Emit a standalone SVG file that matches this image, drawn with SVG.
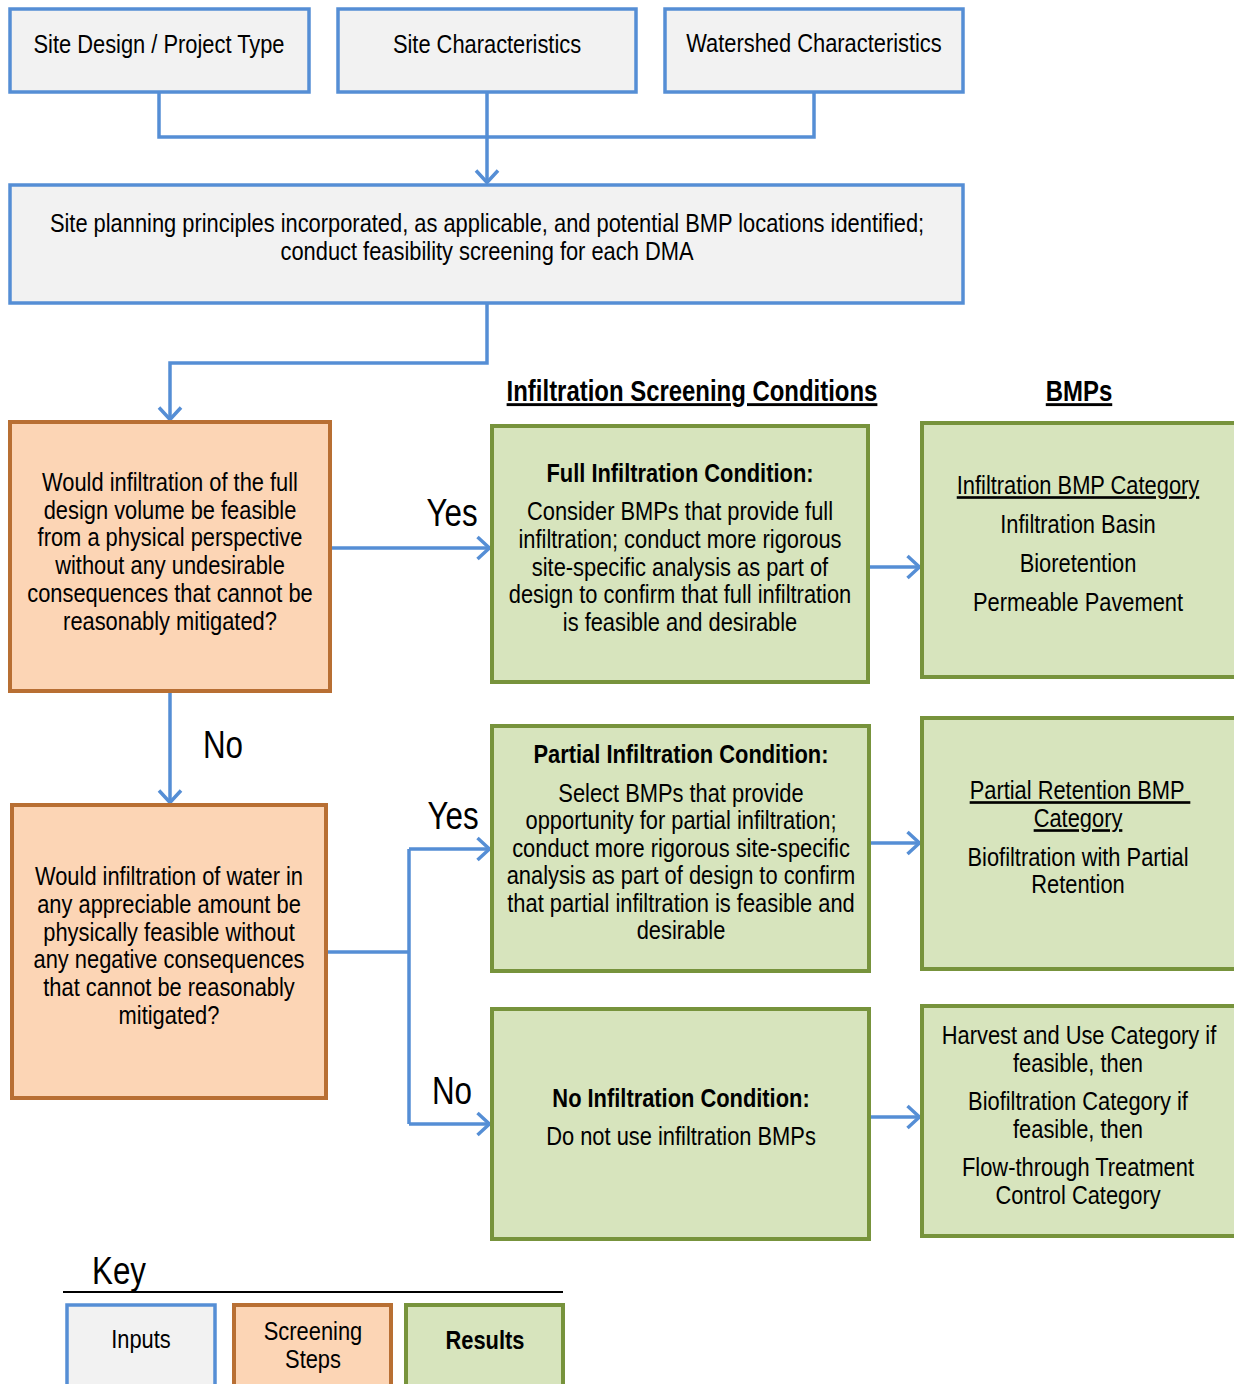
<svg xmlns="http://www.w3.org/2000/svg" width="1234" height="1384" viewBox="0 0 1234 1384">
<defs>
<style>
text{font-family:"Liberation Sans Narrow","Liberation Sans",Arial,sans-serif;font-size:26.5px;fill:#000;text-anchor:middle}
.b{font-weight:bold}
.u{text-decoration:underline}
.h{font-size:29px}
.lbl{font-size:38px}
.in{fill:#F2F2F2;stroke:#558ED5;stroke-width:3.5}
.sc{fill:#FCD5B5;stroke:#B86F33;stroke-width:4}
.rs{fill:#D7E4BD;stroke:#77933C;stroke-width:4}
.c{fill:none;stroke:#558ED5;stroke-width:3.5}
</style>
<marker id="ah" viewBox="0 0 16 26" refX="14.5" refY="13" markerWidth="16" markerHeight="26" markerUnits="userSpaceOnUse" orient="auto">
<path d="M2,2 L14,13 L2,24" fill="none" stroke="#558ED5" stroke-width="3.5"/>
</marker>
</defs>
<rect width="1234" height="1384" fill="#fff"/>
<g id="connectors">
<path class="c" d="M159,92 V137 H814 V92"/>
<path class="c" d="M487,92 V183" marker-end="url(#ah)"/>
<path class="c" d="M487,303 V363 H170 V420" marker-end="url(#ah)"/>
<path class="c" d="M330,548 H490" marker-end="url(#ah)"/>
<path class="c" d="M869,567 H920" marker-end="url(#ah)"/>
<path class="c" d="M170,691 V803" marker-end="url(#ah)"/>
<path class="c" d="M327,952 H409"/>
<path class="c" d="M409,849 V1124"/>
<path class="c" d="M409,849 H490" marker-end="url(#ah)"/>
<path class="c" d="M409,1124 H490" marker-end="url(#ah)"/>
<path class="c" d="M870,843 H920" marker-end="url(#ah)"/>
<path class="c" d="M870,1117 H920" marker-end="url(#ah)"/>
</g>
<g id="n-site-design"><rect class="in" x="10" y="9" width="299" height="83"/><text transform="translate(159,53) scale(.825,1)">Site Design / Project Type</text></g>
<g id="n-site-char"><rect class="in" x="338" y="9" width="298" height="83"/><text transform="translate(487,53) scale(.825,1)">Site Characteristics</text></g>
<g id="n-watershed"><rect class="in" x="665" y="9" width="298" height="83"/><text transform="translate(814,52) scale(.825,1)">Watershed Characteristics</text></g>
<g id="n-planning"><rect class="in" x="10" y="185" width="953" height="118"/>
<text transform="translate(487,232) scale(.825,1)">Site planning principles incorporated, as applicable, and potential BMP locations identified;</text>
<text transform="translate(487,260) scale(.825,1)">conduct feasibility screening for each DMA</text></g>
<g id="n-q1"><rect class="sc" x="10" y="422" width="320" height="269"/>
<text transform="translate(170,491) scale(.825,1)">Would infiltration of the full</text>
<text transform="translate(170,519) scale(.825,1)">design volume be feasible</text>
<text transform="translate(170,546) scale(.825,1)">from a physical perspective</text>
<text transform="translate(170,574) scale(.825,1)">without any undesirable</text>
<text transform="translate(170,602) scale(.825,1)">consequences that cannot be</text>
<text transform="translate(170,630) scale(.825,1)">reasonably mitigated?</text></g>
<g id="h-conditions"><text class="b u h" transform="translate(692,401) scale(.825,1)">Infiltration Screening Conditions</text></g>
<g id="h-bmps"><text class="b u h" transform="translate(1079,401) scale(.825,1)">BMPs</text></g>
<g id="n-full"><rect class="rs" x="492" y="426" width="376" height="256"/>
<text class="b" transform="translate(680,482) scale(.825,1)">Full Infiltration Condition:</text>
<text transform="translate(680,520) scale(.825,1)">Consider BMPs that provide full</text>
<text transform="translate(680,548) scale(.825,1)">infiltration; conduct more rigorous</text>
<text transform="translate(680,576) scale(.825,1)">site-specific analysis as part of</text>
<text transform="translate(680,603) scale(.825,1)">design to confirm that full infiltration</text>
<text transform="translate(680,631) scale(.825,1)">is feasible and desirable</text></g>
<g id="n-bmp-full"><rect class="rs" x="922" y="423" width="316" height="254"/>
<text class="u" transform="translate(1078,494) scale(.825,1)">Infiltration BMP Category</text>
<text transform="translate(1078,533) scale(.825,1)">Infiltration Basin</text>
<text transform="translate(1078,572) scale(.825,1)">Bioretention</text>
<text transform="translate(1078,611) scale(.825,1)">Permeable Pavement</text></g>
<g id="n-q2"><rect class="sc" x="12" y="805" width="314" height="293"/>
<text transform="translate(169,885) scale(.825,1)">Would infiltration of water in</text>
<text transform="translate(169,913) scale(.825,1)">any appreciable amount be</text>
<text transform="translate(169,941) scale(.825,1)">physically feasible without</text>
<text transform="translate(169,968) scale(.825,1)">any negative consequences</text>
<text transform="translate(169,996) scale(.825,1)">that cannot be reasonably</text>
<text transform="translate(169,1024) scale(.825,1)">mitigated?</text></g>
<g id="n-partial"><rect class="rs" x="492" y="726" width="377" height="245"/>
<text class="b" transform="translate(681,763) scale(.825,1)">Partial Infiltration Condition:</text>
<text transform="translate(681,802) scale(.825,1)">Select BMPs that provide</text>
<text transform="translate(681,829) scale(.825,1)">opportunity for partial infiltration;</text>
<text transform="translate(681,857) scale(.825,1)">conduct more rigorous site-specific</text>
<text transform="translate(681,884) scale(.825,1)">analysis as part of design to confirm</text>
<text transform="translate(681,912) scale(.825,1)">that partial infiltration is feasible and</text>
<text transform="translate(681,939) scale(.825,1)">desirable</text></g>
<g id="n-bmp-partial"><rect class="rs" x="922" y="718" width="316" height="251"/>
<text class="u" transform="translate(1080,799) scale(.825,1)" xml:space="preserve">Partial Retention BMP </text>
<text class="u" transform="translate(1078,827) scale(.825,1)">Category</text>
<text transform="translate(1078,866) scale(.825,1)">Biofiltration with Partial</text>
<text transform="translate(1078,893) scale(.825,1)">Retention</text></g>
<g id="n-none"><rect class="rs" x="492" y="1009" width="377" height="230"/>
<text class="b" transform="translate(681,1107) scale(.825,1)">No Infiltration Condition:</text>
<text transform="translate(681,1145) scale(.825,1)">Do not use infiltration BMPs</text></g>
<g id="n-bmp-none"><rect class="rs" x="922" y="1006" width="316" height="230"/>
<text transform="translate(1079,1044) scale(.825,1)">Harvest and Use Category if</text>
<text transform="translate(1078,1072) scale(.825,1)">feasible, then</text>
<text transform="translate(1078,1110) scale(.825,1)">Biofiltration Category if</text>
<text transform="translate(1078,1138) scale(.825,1)">feasible, then</text>
<text transform="translate(1078,1176) scale(.825,1)">Flow-through Treatment</text>
<text transform="translate(1078,1204) scale(.825,1)">Control Category</text></g>
<g id="labels">
<text class="lbl" transform="translate(452,526) scale(.825,1)">Yes</text>
<text class="lbl" transform="translate(223,758) scale(.825,1)">No</text>
<text class="lbl" transform="translate(453,829) scale(.825,1)">Yes</text>
<text class="lbl" transform="translate(452,1104) scale(.825,1)">No</text>
</g>
<g id="key">
<text class="lbl" transform="translate(119,1284) scale(.825,1)">Key</text>
<line x1="63" y1="1292" x2="563" y2="1292" stroke="#000" stroke-width="2"/>
<rect class="in" x="67" y="1305" width="148" height="84"/>
<text transform="translate(141,1348) scale(.825,1)">Inputs</text>
<rect class="sc" x="234" y="1305" width="157" height="84"/>
<text transform="translate(313,1340) scale(.825,1)">Screening</text>
<text transform="translate(313,1368) scale(.825,1)">Steps</text>
<rect class="rs" x="406" y="1305" width="157" height="84"/>
<text class="b" transform="translate(485,1349) scale(.825,1)">Results</text>
</g>
</svg>
